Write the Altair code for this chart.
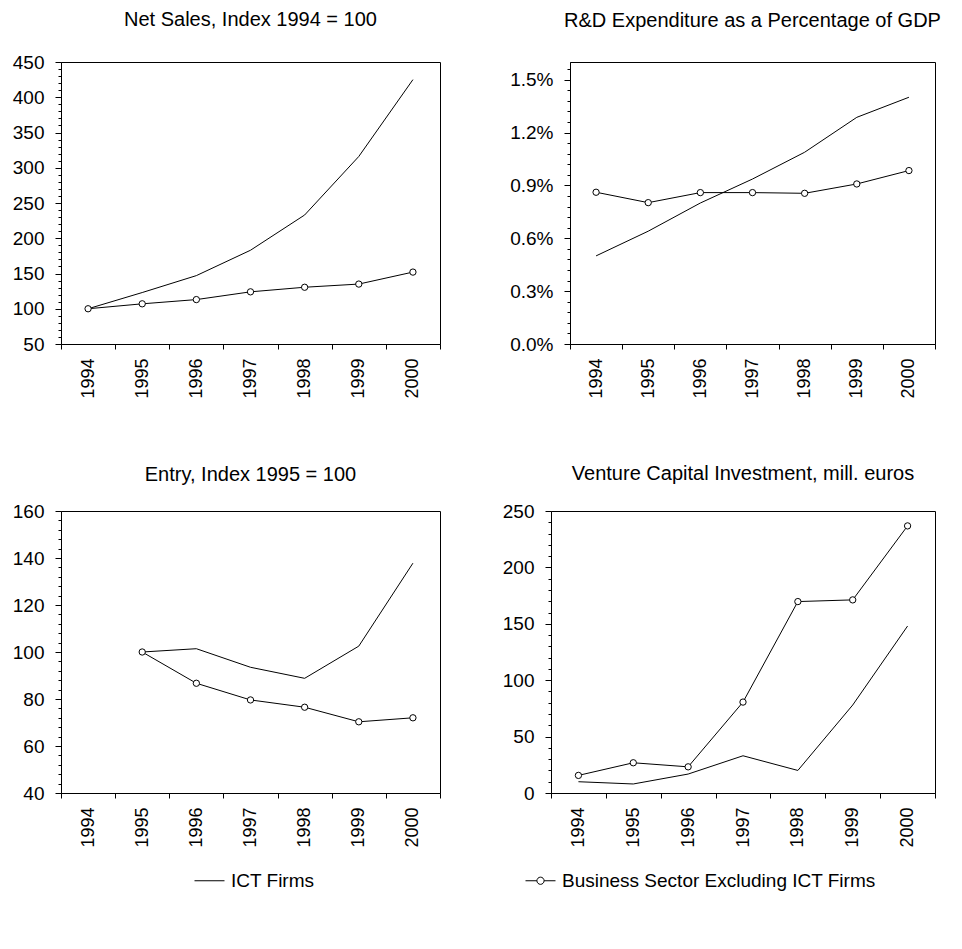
import altair as alt
import pandas as pd

years = ["1994", "1995", "1996", "1997", "1998", "1999", "2000"]
SER_ICT = "ICT Firms"
SER_BUS = "Business Sector Excluding ICT Firms"

sales_ict = [100, 123, 147, 183, 233, 316, 425]
sales_bus = [100, 107, 113, 124, 130.5, 135, 152]
rd_ict = [0.50, 0.64, 0.80, 0.936, 1.088, 1.286, 1.40]
rd_bus = [0.861, 0.802, 0.859, 0.859, 0.855, 0.908, 0.984]
entry_ict = [None, 100, 101.4, 93.5, 88.8, 102.5, 137.8]
entry_bus = [None, 100, 86.7, 79.6, 76.5, 70.3, 72.0]
vc_ict = [10, 8, 16.8, 33, 20, 78, 148]
vc_bus = [15.6, 26.8, 23.2, 80.6, 169.7, 171.2, 236.8]

sales_ticks = list(range(50, 451, 10))
rd_ticks = [round(i * 0.06, 2) for i in range(27)]
entry_ticks = list(range(40, 161, 4))
vc_ticks = list(range(0, 251, 10))

FONT = "Liberation Sans"


def frame(ict, bus):
    rows = []
    for y, a, b in zip(years, ict, bus):
        rows.append({"year": y, "series": SER_ICT, "value": a})
        rows.append({"year": y, "series": SER_BUS, "value": b})
    return pd.DataFrame(rows)


def panel(df, title, ydomain, yvalues, major, pct, width, toffset, legend=False):
    test = f"abs(datum.value/{major} - round(datum.value/{major})) < 1e-6"
    if pct:
        lab = f"({test}) ? format(datum.value, '.1f') + '%' : ''"
    else:
        lab = f"({test}) ? format(datum.value, 'd') : ''"
    x = alt.X(
        "year:O",
        scale=alt.Scale(type="band", domain=years, paddingInner=0, paddingOuter=0),
        axis=alt.Axis(title=None, labelAngle=270, tickBand="extent", tickSize=5,
                      labelPadding=9, labelFontSize=18),
    )
    y = alt.Y(
        "value:Q",
        scale=alt.Scale(domain=ydomain, nice=False, zero=False),
        axis=alt.Axis(title=None, values=yvalues, labelExpr=lab,
                      tickSize={"condition": {"test": test, "value": 6}, "value": 3},
                      labelPadding=11, labelFontSize=19),
    )
    base = alt.Chart(df)
    ict = base.transform_filter(alt.datum.series == SER_ICT).mark_line(
        color="black", strokeWidth=1).encode(x=x, y=y)
    bus = base.transform_filter(alt.datum.series == SER_BUS).mark_line(
        color="black", strokeWidth=1,
        point=alt.OverlayMarkDef(shape="circle", filled=True, fill="white",
                                 stroke="black", strokeWidth=1, size=40),
    ).encode(x=x, y=y)
    layers = [ict, bus]
    if legend:
        leg = base.transform_filter("false").mark_point(
            filled=False, color="black", stroke="black", strokeWidth=1, opacity=1
        ).encode(
            x=x, y=y,
            shape=alt.Shape(
                "series:N",
                scale=alt.Scale(
                    domain=[SER_ICT, SER_BUS],
                    range=[
                        "M-1,0L1,0",
                        "M-1,0L-0.24,0M0.24,0L1,0M-0.24,0A0.24,0.24,0,1,1,0.24,0A0.24,0.24,0,1,1,-0.24,0Z",
                    ],
                ),
                legend=alt.Legend(
                    title=None, orient="none", direction="horizontal",
                    legendX=133, legendY=803,
                    symbolSize=900, symbolOpacity=1, symbolStrokeColor="black",
                    symbolFillColor="white", symbolStrokeWidth=1,
                    labelFont=FONT, labelFontSize=19, labelColor="black",
                    labelOffset=6, columnPadding=208, labelLimit=400,
                ),
            ),
        )
        layers.append(leg)
    return alt.layer(*layers).properties(
        width=width, height=282,
        title=alt.TitleParams(title, offset=toffset, anchor="middle", frame="group"),
    )


p1 = panel(frame(sales_ict, sales_bus), "Net Sales, Index 1994 = 100", [50, 450],
           sales_ticks, 50, False, 379, 23.5, legend=True)
p2 = panel(frame(rd_ict, rd_bus), "R&D Expenditure as a Percentage of GDP", [0, 1.6],
           rd_ticks, 0.3, True, 365, 31)
p3 = panel(frame(entry_ict, entry_bus), "Entry, Index 1995 = 100", [40, 160],
           entry_ticks, 20, False, 379, 17.5)
p4 = panel(frame(vc_ict, vc_bus), "Venture Capital Investment, mill. euros", [0, 250],
           vc_ticks, 50, False, 384, 18.5)

row1 = alt.hconcat(p1, p2, spacing=130, bounds="flush")
row2 = alt.hconcat(p3, p4, spacing=111, bounds="flush")

chart = alt.vconcat(row1, row2, spacing=64).properties(
    padding={"left": 3, "top": 1, "right": 5, "bottom": 5}
).configure_view(
    stroke="black", strokeWidth=1
).configure_axis(
    grid=False, labelFont=FONT, labelColor="black", domainColor="black",
    tickColor="black", domainWidth=1, tickWidth=1,
).configure_title(
    font=FONT, fontSize=20, fontWeight="normal", color="black",
)

chart.save("out.html", embed_options={"renderer": "svg", "actions": False})
